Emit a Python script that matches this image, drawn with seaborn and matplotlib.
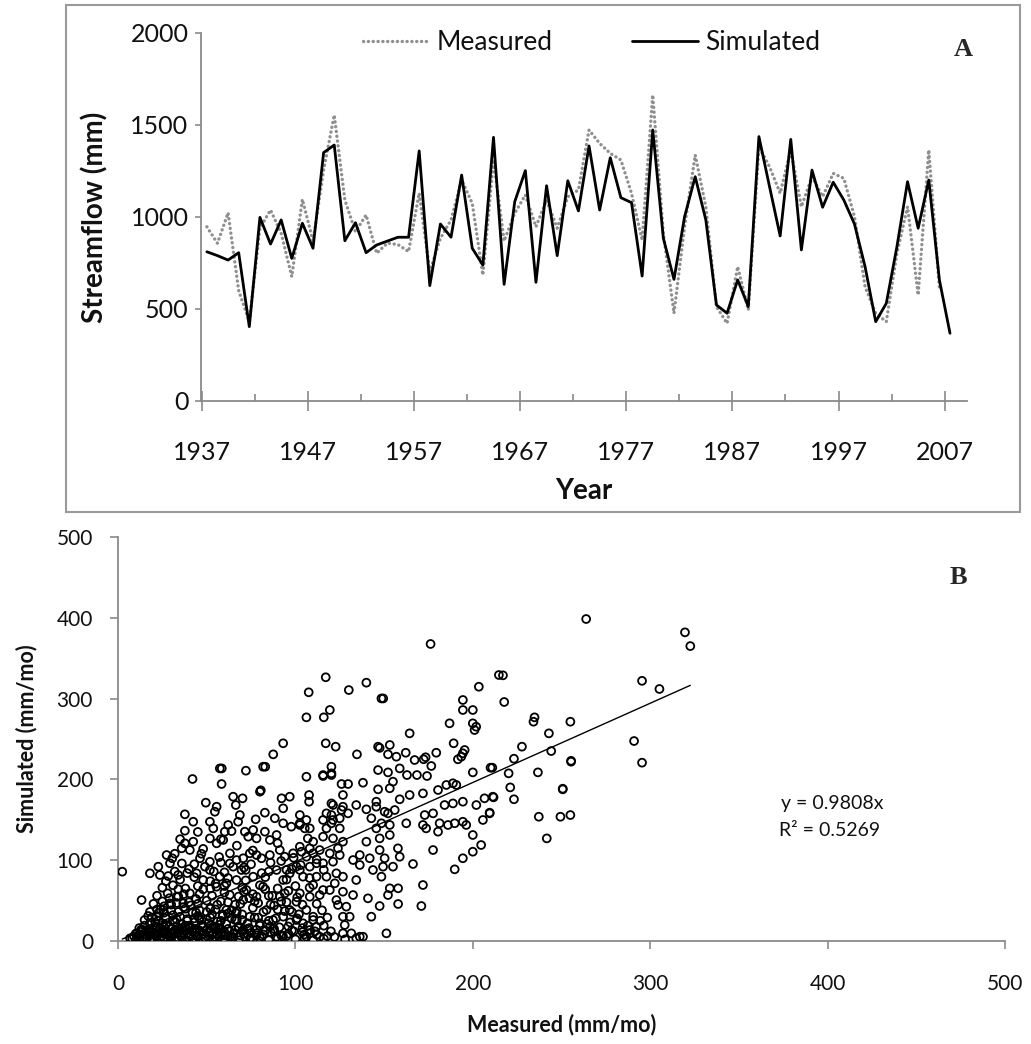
import numpy as np
import pandas as pd
import matplotlib
matplotlib.use("Agg")
import matplotlib.pyplot as plt
from matplotlib.patches import Rectangle
from matplotlib.ticker import FixedLocator
import seaborn as sns

sns.set_theme(style="white")
plt.rcParams['font.family'] = ['Lato', 'DejaVu Sans']

# ---------------- Panel A data ----------------
years = list(range(1937, 2008))
measured = [947, 857, 1023, 600, 431, 940, 1038, 912, 676, 1096,
            870, 1255, 1554, 1092, 920, 1011, 803, 858, 850, 812,
            1130, 703, 884, 984, 1201, 1074, 685, 1310, 870, 1020,
            1120, 947, 1092, 939, 1110, 1147, 1473, 1400, 1346, 1310,
            1129, 875, 1663, 911, 477, 947, 1337, 1056, 513, 422,
            730, 495, 1382, 1273, 1129, 1364, 1056, 1219, 1111, 1237,
            1210, 1002, 621, 477, 431, 803, 1056, 576, 1364, 614, np.nan]
simulated = [811, 790, 766, 806, 404, 998, 853, 984, 775, 966,
             830, 1350, 1391, 871, 969, 806, 848, 869, 890, 890,
             1359, 627, 962, 890, 1228, 830, 739, 1433, 634, 1083,
             1252, 645, 1170, 790, 1197, 1033, 1386, 1038, 1322, 1105,
             1078, 679, 1473, 884, 661, 1002, 1219, 984, 522, 477,
             658, 513, 1437, 1165, 897, 1422, 821, 1255, 1053, 1189,
             1092, 962, 730, 431, 531, 839, 1192, 939, 1201, 658, 368]
year_tick_labels = ["1937", "1947", "1957", "1967", "1977", "1987", "1997", "2007"]
streamflow_ticks = [0, 500, 1000, 1500, 2000]

# ---------------- Panel B data ----------------
meas_mo = [
 263.9, 319.6, 322.6, 217.0, 295.4, 305.2, 217.7, 234.8, 234.2, 255.0, 242.9, 290.9, 227.7, 244.2, 223.2,
 255.4, 255.4, 295.4, 211.0, 220.2, 236.7, 221.1, 211.7, 223.2, 250.7, 250.7, 209.5, 237.2, 249.4, 255.0, 241.7,
 176.2, 117.1, 140.0, 107.5, 130.1, 203.4, 214.7, 148.5, 149.5, 194.4, 194.4, 200.0, 119.4, 106.2, 116.0,
 186.9, 200.0, 201.9, 201.0, 164.4, 117.1, 122.7, 189.2, 146.6, 147.5, 153.2, 134.7, 152.2, 156.9, 162.2,
 179.4, 195.4, 194.4, 193.5, 191.6, 167.2, 172.3, 173.4, 176.6, 120.3, 120.3, 106.2, 115.6, 146.6, 152.2,
 158.8, 162.9, 168.5, 174.2, 200.0, 210.0,
 93.1, 87.5, 81.8, 83.0, 72.1, 57.4, 58.5, 42.0,
 58.4, 80.0, 80.5, 92.2, 96.8, 93.1, 64.9, 70.2, 66.4, 49.5, 55.6, 54.6, 37.7, 42.4, 37.7, 68.7, 67.7,
 82.8, 77.6, 88.4, 51.8, 53.7, 62.1, 60.2, 93.1, 97.7, 102.5, 105.3, 71.5, 73.4, 78.1, 76.2, 82.8, 85.6,
 89.4, 51.8, 55.6, 59.3, 42.4, 37.7, 35.9, 40.5, 27.4, 30.6, 29.3, 22.7, 18.0, 23.6, 2.4, 13.3, 28.3, 33.9,
 46.2, 51.8, 49.0, 63.1, 66.8, 70.6, 64.9, 69.6, 74.3, 78.1, 80.9, 85.6, 91.2, 94.0, 98.7, 103.4, 106.2,
 89.4, 93.1, 96.8, 100.6, 104.3, 100.6, 91.2, 96.8, 93.1, 51.8, 57.4, 61.1, 55.5, 48.0, 44.3, 66.8, 72.4,
 70.6, 78.1, 81.8, 76.2, 83.7, 87.4, 80.0, 74.3, 66.8, 61.1,
 36.8, 40.5, 33.0, 29.3, 25.5, 21.8, 18.0, 14.3, 10.5, 6.8,
 115.6, 120.3, 126.0, 129.7, 138.1, 155.0, 153.2, 146.6, 126.8, 107.7, 107.7, 158.8, 164.4, 171.9, 180.4,
 185.1, 188.8, 190.7, 145.6, 121.2, 126.0, 129.7, 125.0, 120.3, 134.3, 140.0, 145.6, 150.3, 152.2, 156.0,
 102.5, 106.2, 102.5, 108.1, 115.6, 120.3, 125.0, 117.5, 142.8, 148.5, 153.2, 145.6, 162.5, 172.9, 177.6,
 171.9, 173.7, 181.3, 186.0, 189.8, 194.4, 196.3, 180.4, 184.1, 188.8, 194.4, 202.0, 206.6, 211.3, 209.5,
 205.7, 200.0, 204.7, 200.0, 194.4, 189.8, 177.6, 166.3, 171.9, 171.0, 157.8, 158.8, 140.0, 147.5, 153.2,
 147.5, 150.3, 155.0, 149.4, 141.9, 136.3, 132.5, 136.3, 143.7, 148.5, 153.2, 157.9, 152.2, 140.9, 147.5,
 157.9, 142.8, 151.3, 136.3, 138.1, 126.8, 127.8, 130.6, 128.7, 124.0, 132.5, 134.3, 126.8, 123.1, 122.2,
 126.8, 117.5, 111.9, 110.0, 115.6, 108.1, 113.7, 102.5, 102.5, 108.1, 115.6, 121.2, 125.0, 119.4, 113.7,
 108.1, 102.5, 110.0, 115.6, 121.2, 126.8, 124.0, 106.2, 110.0, 104.3, 111.9, 108.1, 113.7, 106.2,
 120.3, 126.8, 117.5, 121.2, 110.0, 111.9, 119.4, 123.1, 126.8, 131.5, 100.6, 108.1, 134.3, 70.6, 78.1,
 85.6, 89.4, 63.1, 74.3,
 8, 10, 12, 14, 16, 18, 20, 22, 24, 26, 28, 30, 33, 36, 39, 42, 45, 48, 51, 54, 57, 60, 64, 68, 72, 76,
 80, 85, 90, 95, 100, 105, 110, 116, 122, 128,
 10, 13, 16, 19, 22, 25, 28, 31, 34, 37, 40, 44, 48, 52, 56, 60, 65, 70, 75, 82, 88, 96, 104, 112, 120,
 12, 15, 18, 21, 24, 27, 30, 33, 36, 40, 44, 48, 52, 57, 62, 68, 74, 80, 88, 96, 104, 116,
 15, 19, 23, 27, 31, 35, 39, 43, 47, 52, 58, 64, 70, 77, 85, 101, 110, 118,
 18, 22, 26, 30, 34, 38, 42, 46, 50, 55, 67, 90, 98, 115,
 20, 25, 30, 40, 45, 50, 56, 62, 69, 77, 86, 95, 112,
 22, 28, 34, 46, 53, 60, 68, 76, 85, 94,
 25, 31, 38, 45, 52, 60, 70, 80, 90, 100,
 35, 43, 52, 62, 72, 83, 95, 108,
 32, 40, 60, 72, 85, 98,
 36, 58, 75, 92,
 11, 15, 17, 21, 23, 26, 29, 32, 35, 38, 41, 43, 47, 50, 53, 55, 58, 62, 66, 69, 73, 78, 83, 92, 98]
sim_mo = [
 398.5, 382.0, 365.0, 328.8, 322.0, 311.9, 295.8, 276.8, 271.4, 271.4, 257.0, 247.5, 240.5, 235.1, 225.6,
 221.9, 223.0, 220.7, 214.5, 207.5, 208.7, 190.1, 177.8, 175.4, 187.7, 188.5, 158.8, 153.8, 153.8, 155.9, 127.0,
 367.6, 326.4, 319.7, 307.8, 310.6, 314.7, 329.2, 300.2, 300.2, 298.3, 285.9, 285.9, 285.9, 276.8, 276.8,
 269.4, 269.4, 265.2, 261.1, 257.0, 244.7, 240.5, 244.7, 240.5, 239.0, 242.6, 231.0, 231.0, 228.1, 233.0,
 233.0, 236.4, 232.3, 228.1, 224.9, 224.0, 224.9, 227.4, 216.6, 215.7, 207.5, 203.3, 205.4, 211.6, 208.7,
 213.6, 205.4, 205.4, 204.2, 208.7, 214.5,
 244.7, 231.0, 215.7, 215.7, 210.8, 213.6, 213.6, 200.5,
 194.3, 184.8, 186.5, 176.6, 178.6, 164.2, 178.6, 176.6, 168.3, 171.2, 166.2, 160.0, 156.8, 147.6, 136.5, 155.9, 147.6,
 158.8, 150.6, 151.9, 147.6, 139.4, 143.6, 135.3, 145.7, 141.5, 145.7, 139.4, 135.3, 129.1, 127.0, 137.4, 135.3, 125.0,
 131.2, 127.0, 120.9, 125.0, 122.9, 120.9, 114.7, 112.6, 106.4, 102.4, 96.2, 92.0, 83.8, 81.7, 85.8, 50.7, 80.4, 81.7,
 102.4, 98.1, 92.0, 108.5, 100.2, 102.4, 92.0, 87.9, 108.5, 106.4, 102.4, 106.4, 112.6, 104.3, 108.5, 110.5, 104.3,
 87.9, 75.5, 83.8, 92.0, 79.6, 48.6, 54.8, 38.4, 30.1, 87.9, 79.6, 71.4, 67.2, 75.5, 83.8, 75.5, 63.1,
 50.7, 54.8, 67.2, 79.6, 38.4, 26.0, 21.9, 30.1, 34.2, 38.4,
 46.6, 59.0, 54.8, 46.6, 38.4, 30.1, 21.9, 13.6, 9.5, 3.3,
 204.2, 205.4, 194.3, 194.3, 195.9, 197.2, 189.0, 187.7, 180.7, 180.7, 172.4, 175.4, 180.7, 182.7, 186.9,
 193.1, 195.2, 193.1, 172.4, 168.3, 162.1, 158.0, 151.9, 155.9, 168.3, 163.0, 166.2, 160.0, 158.0, 162.1,
 155.9, 149.8, 143.6, 139.4, 149.8, 145.7, 139.4, 139.4, 151.9, 145.7, 143.6, 139.4, 145.7, 155.9, 158.0,
 143.6, 139.4, 145.7, 143.6, 145.7, 147.6, 143.6, 135.3, 168.3, 170.3, 172.4, 168.3, 176.6, 178.6, 158.0,
 149.8, 131.2, 118.8, 110.5, 102.4, 88.7, 112.6, 95.3, 69.3, 43.3, 114.7, 104.3, 122.9, 127.0, 131.2,
 112.6, 102.4, 92.0, 92.0, 102.4, 106.4, 100.2, 94.1, 87.9, 79.6, 65.2, 65.2, 56.9, 52.8, 43.3,
 45.8, 30.1, 9.5, 5.3, 5.3, 9.5, 19.8, 30.1, 42.5, 44.6, 56.9, 75.5, 79.6, 83.8, 71.4,
 61.0, 79.6, 79.6, 69.3, 63.1, 54.8, 56.9, 59.0, 87.9, 92.0, 96.2, 98.1, 106.4, 108.5, 112.6,
 114.7, 116.7, 122.9, 129.1, 127.0, 122.9, 114.7, 38.4, 30.1, 21.9, 17.7, 9.5, 5.3, 5.3,
 170.3, 166.2, 158.0, 149.8, 108.5, 96.2, 63.1, 50.7, 30.1, 9.5, 26.0, 13.6, 3.3, 13.6, 9.5,
 17.7, 5.3, 5.3, 3.3,
 3, 1, 4, 2, 5, 1, 3, 6, 2, 4, 1, 5, 2, 4, 1, 3, 6, 2, 4, 1, 5, 2, 4, 1, 5, 2,
 4, 1, 3, 6, 2, 4, 1, 3, 5, 2,
 9, 12, 8, 11, 9, 12, 8, 11, 10, 13, 8, 11, 9, 12, 8, 11, 9, 12, 10, 8, 12, 9, 11, 8, 12,
 16, 19, 15, 18, 16, 20, 15, 18, 16, 19, 15, 18, 16, 20, 15, 18, 16, 19, 15, 18, 16, 19,
 26, 29, 25, 28, 26, 30, 25, 28, 26, 29, 25, 28, 26, 29, 25, 28, 26, 29,
 36, 39, 35, 38, 36, 40, 35, 38, 36, 39, 37, 39, 36, 38,
 46, 49, 45, 48, 46, 50, 45, 48, 46, 49, 45, 48, 46,
 56, 59, 55, 58, 56, 60, 55, 58, 56, 59,
 66, 69, 65, 68, 65, 68, 66, 69, 65, 68,
 76, 79, 74, 78, 75, 79, 76, 78,
 86, 89, 85, 88, 86, 89,
 96, 97, 95, 99,
 6, 3, 10, 7, 13, 9, 6, 13, 7, 16, 6, 13, 7, 14, 8, 17, 9, 6, 14, 7, 15, 7, 13, 7, 13]
# extra points read from the darkest part of the cloud
meas_core = [9, 12, 14, 16, 19, 20, 22, 24, 25, 27, 28, 29, 31, 32, 34, 35, 36, 37, 39, 40,
             41, 43, 44, 45, 46, 47, 49, 50, 51, 53, 54, 55, 56, 58, 59, 60, 61, 63, 64, 65,
             67, 68, 70, 71, 73, 75, 76, 78, 79, 81, 82, 84, 86, 88, 89, 91, 93, 94, 97, 99,
             102, 105, 107, 111, 114, 118, 23, 26, 29, 33, 37, 41, 44, 48, 52, 55, 58, 63, 66, 71,
             74, 79, 83, 87, 92, 96, 101, 104, 108, 27, 34, 39, 43, 47, 54, 57, 63, 67, 71, 76,
             81, 86, 90, 95, 99, 103, 107, 112, 116, 58, 64, 48, 45, 32, 35,
             13, 18, 21, 26, 30, 33, 38, 42, 46, 51, 57, 62, 66, 17, 24, 31, 37, 44, 52, 59]
sim_core = [6, 8, 4, 13, 3, 9, 16, 6, 22, 12, 3, 18, 8, 24, 4, 14, 21, 9, 27, 4,
            17, 23, 7, 31, 13, 20, 4, 27, 10, 33, 18, 5, 24, 14, 31, 7, 21, 12, 38, 4,
            26, 16, 33, 9, 22, 4, 41, 14, 29, 6, 36, 21, 11, 44, 28, 17, 6, 37, 23, 12,
            33, 8, 19, 12, 25, 6, 35, 43, 53, 47, 58, 44, 52, 64, 41, 71, 49, 57, 45, 61,
            53, 47, 64, 56, 49, 62, 54, 45, 66, 74, 64, 84, 95, 108, 86, 104, 96, 118, 91, 112,
            84, 97, 121, 88, 103, 94, 127, 101, 88, 126, 136, 114, 135, 108, 126,
            14, 7, 23, 17, 10, 27, 19, 13, 28, 22, 15, 34, 26, 31, 39, 32, 42, 35, 40, 33]
fit_slope = 0.9808
eq_text = "y = 0.9808x"
r2_text = "R² = 0.5269"
mo_ticks = [0, 100, 200, 300, 400, 500]

# ---------------- Figure ----------------
W, H = 1031, 1044
fig = plt.figure(figsize=(W / 100, H / 100), dpi=100)

def fx(px):
    return px / W

def fy(py):
    return 1 - py / H

spine_col = "#8a8a8a"
text_col = "#111111"

# Frame around panel A
fig.patches.append(Rectangle((fx(66), fy(512)), fx(1020) - fx(66), fy(5) - fy(512),
                             transform=fig.transFigure, fill=False,
                             edgecolor="#9a9a9a", linewidth=1.5))

axA = fig.add_axes([fx(201), fy(401), fx(967) - fx(201), fy(33) - fy(401)])
dfA = pd.DataFrame({"Year": years, "Measured": measured, "Simulated": simulated})
sns.lineplot(data=dfA, x="Year", y="Measured", ax=axA, color="#8f8f8f",
             linewidth=2.4, linestyle=(0, (0.05, 1.4)), dash_capstyle="round",
             label="Measured")
sns.lineplot(data=dfA, x="Year", y="Simulated", ax=axA, color="black",
             linewidth=2.0, label="Simulated")
axA.set_xlim(1936.45, 2008.6)
axA.set_ylim(0, 2000)
for s in ["top", "right"]:
    axA.spines[s].set_visible(False)
for s in ["left", "bottom"]:
    axA.spines[s].set_color(spine_col)
    axA.spines[s].set_linewidth(1.3)
axA.xaxis.set_major_locator(FixedLocator([1936.5 + 10 * i for i in range(8)]))
axA.set_xticklabels(year_tick_labels)
axA.xaxis.set_minor_locator(FixedLocator([1941.5 + 10 * i for i in range(7)]))
axA.set_yticks(streamflow_ticks)
axA.set_yticklabels([str(v) for v in streamflow_ticks])
axA.tick_params(axis="x", which="major", direction="inout", length=14, width=1.2,
                color=spine_col, labelsize=18, pad=22, bottom=True, labelcolor=text_col)
axA.tick_params(axis="x", which="minor", direction="in", length=5, width=1.2,
                color=spine_col, bottom=True)
axA.tick_params(axis="y", which="major", direction="out", length=4, width=1.2,
                color=spine_col, labelsize=18, pad=5, left=True, labelcolor=text_col)
axA.set_xlabel("Year", fontsize=20, fontweight="bold", labelpad=10, color=text_col)
axA.set_ylabel("Streamflow (mm)", fontsize=20, fontweight="bold", labelpad=16, color=text_col)
leg = axA.legend(loc="center", bbox_to_anchor=(0.51, 0.973), ncol=2, frameon=False,
                 fontsize=19, handlelength=2.5, columnspacing=3.0, handletextpad=0.3)
for t in leg.get_texts():
    t.set_color(text_col)
fig.text(fx(963), fy(50), "A", fontsize=19, fontweight="bold",
         family=["Liberation Serif", "DejaVu Serif"], ha="center", va="center")

# ---------------- Panel B ----------------
axB = fig.add_axes([fx(118), fy(941), fx(1005) - fx(118), fy(537) - fy(941)])
dfB = pd.DataFrame({"Measured (mm/mo)": meas_mo + meas_core,
                    "Simulated (mm/mo)": sim_mo + sim_core})
sns.scatterplot(data=dfB, x="Measured (mm/mo)", y="Simulated (mm/mo)", ax=axB,
                marker="o", s=32, facecolor="none", edgecolor="black",
                linewidth=1.3, zorder=3)
xfit = np.array([min(meas_mo), max(meas_mo)])
sns.lineplot(x=xfit, y=fit_slope * xfit, ax=axB, color="black", linewidth=1.0, zorder=4)
axB.set_xlim(0, 500)
axB.set_ylim(0, 500)
for s in ["top", "right"]:
    axB.spines[s].set_visible(False)
for s in ["left", "bottom"]:
    axB.spines[s].set_color(spine_col)
    axB.spines[s].set_linewidth(1.3)
axB.set_xticks(mo_ticks)
axB.set_yticks(mo_ticks)
axB.tick_params(axis="x", direction="out", length=6, width=1.2, color=spine_col,
                labelsize=15, pad=18, bottom=True, labelcolor=text_col)
axB.tick_params(axis="y", direction="out", length=6, width=1.2, color=spine_col,
                labelsize=15, pad=12, left=True, labelcolor=text_col)
axB.set_xlabel("Measured (mm/mo)", fontsize=15.5, fontweight="bold", labelpad=14, color=text_col)
axB.set_ylabel("Simulated (mm/mo)", fontsize=15.5, fontweight="bold", labelpad=14, color=text_col)
axB.text(fx(832), fy(804), eq_text, transform=fig.transFigure, fontsize=14,
         ha="center", va="center", color=text_col)
axB.text(fx(830), fy(830), r2_text, transform=fig.transFigure, fontsize=14,
         ha="center", va="center", color=text_col)
fig.text(fx(958), fy(578), "B", fontsize=19, fontweight="bold",
         family=["Liberation Serif", "DejaVu Serif"], ha="center", va="center")

fig.savefig("out.png", dpi=100)
